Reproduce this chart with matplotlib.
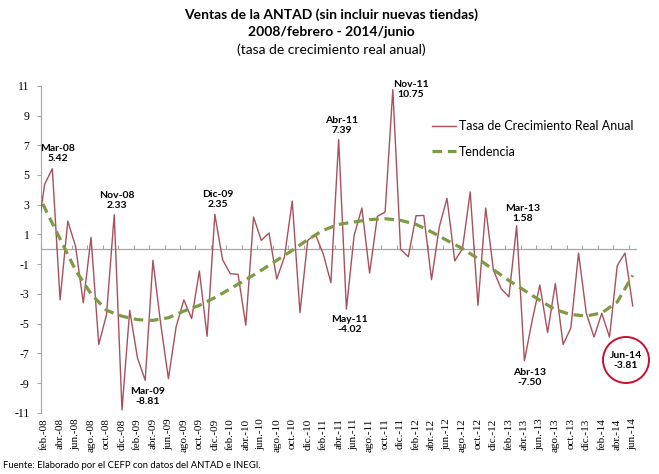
import matplotlib
matplotlib.use("Agg")
import matplotlib.pyplot as plt
from matplotlib.patches import Ellipse

# categories: ene-08 .. jun-14 (ene-08 only shows as the clipped start of the line)
mes = ['ene', 'feb', 'mar', 'abr', 'may', 'jun', 'jul', 'ago', 'sep', 'oct', 'nov', 'dic']
years = ['08', '09', '10', '11', '12', '13', '14']
months = [m + '.-' + y for y in years for m in mes]
months = months[:months.index('jun.-14') + 1]

tasa = [0.7,
        4.37, 5.42, -3.4, 1.9, 0.2, -3.6, 0.8, -6.4, -4.4, 2.33, -10.8,
        -4.1, -7.3, -8.81, -0.74, -5.0, -8.7, -5.2, -3.4, -4.66, -1.46, -5.85, 2.35,
        -0.7, -1.64, -1.68, -5.1, 2.17, 0.6, 1.1, -2.0, -0.5, 3.25, -4.26, 0.6,
        1.0, -0.3, -2.24, 7.39, -4.02, 0.94, 2.78, -1.6, 2.22, 2.5, 10.75, 0.0,
        -0.5, 2.26, 2.28, -2.04, 1.5, 3.43, -0.78, 0.05, 3.86, -3.77, 2.78, -1.4,
        -2.65, -3.2, 1.58, -7.5, -4.8, -2.4, -5.6, -2.3, -6.4, -5.3, -0.25, -4.3,
        -5.9, -4.3, -5.9, -1.1, -0.25, -3.81]

# trend line
trend_months = ['ene.-08'] + months[1::2]
trend = [4.0, 2.8, 0.7, -1.4, -3.0, -4.1, -4.5, -4.73, -4.78, -4.6, -4.15,
         -3.77, -3.25, -2.65, -2.04, -1.41, -0.74, -0.07, 0.65, 1.28, 1.68,
         1.84, 2.0, 2.06, 1.95, 1.68, 1.17, 0.6, 0.05, -0.63, -1.37,
         -2.1, -2.76, -3.43, -4.06, -4.39, -4.48, -4.28, -3.54, -1.75]

# labelled points
notes = [('mar.-08', 'Mar-08\n5.42', 4, 11),
         ('nov.-08', 'Nov-08\n2.33', 2, 10),
         ('mar.-09', 'Mar-09\n-8.81', 2, -12),
         ('dic.-09', 'Dic-09\n2.35', 2, 11),
         ('abr.-11', 'Abr-11\n7.39', 2, 10),
         ('may.-11', 'May-11\n-4.02', 2, -11),
         ('nov.-11', 'Nov-11\n10.75', 13, 0),
         ('mar.-13', 'Mar-13\n1.58', 4, 9),
         ('abr.-13', 'Abr-13\n-7.50', 4, -12),
         ('jun.-14', 'Jun-14\n-3.81', -5, -39)]

serif = 'Liberation Serif'
sans = 'Lato'
grey = '#A6A6A6'

fig = plt.figure(figsize=(6.59, 4.74), dpi=100)
ax = fig.add_axes([0.0618, 0.129, 0.9042, 0.690])

x = list(range(len(months)))
ax.plot(x, tasa, color='#A8505C', lw=1.0, label='Tasa de Crecimiento Real Anual', zorder=3)
tx = [months.index(m) for m in trend_months]
ax.plot(tx, trend, color='#7E9A45', lw=2.3, dashes=(3, 1.8), label='Tendencia', zorder=4)
ax.axhline(0, color=grey, lw=0.9, zorder=1)

ax.set_xlim(0.5, len(months) - 0.5)
ax.set_ylim(-11, 11)
ax.set_yticks(range(-11, 12, 2))
ax.set_yticklabels([str(v) for v in range(-11, 12, 2)], fontfamily=serif, fontsize=8.5)
ax.tick_params(axis='y', length=3, color=grey, pad=5)

ax.set_xticks(x[1::2])
ax.set_xticklabels(months[1::2], rotation=90, fontfamily=serif, fontsize=8)
ax.tick_params(axis='x', length=0, pad=4)

for s in ['top', 'right', 'bottom']:
    ax.spines[s].set_visible(False)
ax.spines['left'].set_color(grey)

# tick marks on the zero line, between categories
sec = ax.secondary_xaxis(0.5)
sec.set_xticks([v + 0.5 for v in x[::2]])
sec.set_xticklabels([])
sec.tick_params(length=3, color=grey, direction='out')
for sp in sec.spines.values():
    sp.set_visible(False)

for m, txt, dx, dy in notes:
    i = months.index(m)
    ax.annotate(txt, xy=(i, tasa[i]), xytext=(dx, dy), textcoords='offset points',
                ha='center', va='center', fontsize=7.5, fontweight='bold',
                fontfamily=sans, linespacing=1.15, zorder=5)

circ = Ellipse((626 / 659, 1 - 360 / 474), 46 / 659, 46 / 474, transform=fig.transFigure,
               fill=False, edgecolor='#C8102E', lw=1.4, zorder=6)
fig.patches.append(circ)

ax.legend(loc='upper left', bbox_to_anchor=(432 / 659, 1 - 120 / 474),
          bbox_transform=fig.transFigure, frameon=False,
          prop={'family': sans, 'size': 9}, handlelength=1.9, handletextpad=0.25,
          labelspacing=1.1, borderpad=0, borderaxespad=0)

fig.text(0.503, 1 - 15 / 474, 'Ventas de la ANTAD (sin incluir nuevas tiendas)',
         ha='center', va='center', fontsize=10, fontweight='bold', fontfamily=sans)
fig.text(0.503, 1 - 32 / 474, '2008/febrero - 2014/junio',
         ha='center', va='center', fontsize=10, fontweight='bold', fontfamily=sans)
fig.text(0.503, 1 - 50 / 474, '(tasa de crecimiento real anual)',
         ha='center', va='center', fontsize=10, fontfamily=sans)
fig.text(3 / 659, 1 - 466 / 474, 'Fuente: Elaborado por el CEFP con datos del ANTAD e INEGI.',
         ha='left', va='center', fontsize=6.8, fontfamily=sans)

fig.savefig('out.png', dpi=100)
